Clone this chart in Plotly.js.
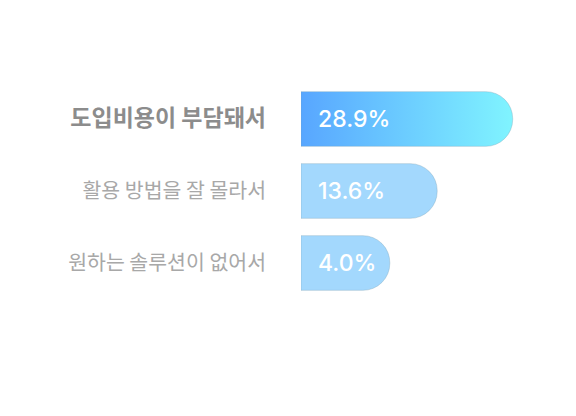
<!DOCTYPE html>
<html>
<head>
<meta charset="utf-8">
<script src="https://cdn.plot.ly/plotly-3.0.1.min.js"></script>
<style>
  html, body { margin: 0; padding: 0; background: #ffffff; }
  #chart { width: 576px; height: 416px; }
</style>
</head>
<body>
<div id="chart"></div>
<script>
// ---- data ----
const categories = ['도입비용이 부담돼서', '활용 방법을 잘 몰라서', '원하는 솔루션이 없어서'];
const values = [28.9, 13.6, 4.0];
const valueLabels = values.map(v => v.toFixed(1) + '%');
const highlightIndex = 0;

// ---- style ----
const barPad = 14;               // every bar gets a fixed lead-in so small bars keep room for their label
const baseColor = '#a3d8fd';
const gradFrom = '#58a6ff';
const gradTo = '#80f4ff';

const tickText = categories.map((c, i) =>
  i === highlightIndex
    ? "<b><span style='color:#8c8c8c;font-size:23px'>" + c + "</span></b>"
    : c);

const trace = {
  type: 'bar',
  orientation: 'h',
  y: categories,
  x: values.map(v => v + barPad),
  marker: {
    color: categories.map((c, i) => i === highlightIndex ? gradFrom : baseColor),
    cornerradius: 27,
    line: { color: 'rgba(120,160,180,0.35)', width: 1 }
  },
  hoverinfo: 'skip'
};

const annotations = categories.map((c, i) => ({
  x: 0, y: c, xref: 'x', yref: 'y',
  xanchor: 'left', yanchor: 'middle', xshift: 15,
  text: valueLabels[i], showarrow: false,
  font: { family: 'Inter, "Noto Sans", sans-serif', size: 23, color: '#ffffff', weight: 500 }
}));

const layout = {
  width: 576, height: 416,
  margin: { l: 301, r: 20, t: 83, b: 117 },
  paper_bgcolor: '#ffffff', plot_bgcolor: '#ffffff',
  showlegend: false,
  bargap: 0.24,
  xaxis: { visible: false, range: [0, 51.67], fixedrange: true },
  yaxis: {
    type: 'category',
    categoryorder: 'array', categoryarray: categories,
    range: [2.5, -0.5],
    tickvals: categories, ticktext: tickText,
    ticks: '', showline: false, showgrid: false, zeroline: false,
    ticklabelstandoff: 34,
    tickfont: { family: '"Noto Sans CJK KR", sans-serif', size: 20.5, color: '#a8a8a8' }
  },
  annotations: annotations
};

const gd = document.getElementById('chart');
Plotly.newPlot(gd, [trace], layout, { staticPlot: true, displayModeBar: false }).then(() => {
  const svg = gd.querySelector('svg.main-svg');
  const ns = 'http://www.w3.org/2000/svg';
  let defs = svg.querySelector('defs');
  if (!defs) { defs = document.createElementNS(ns, 'defs'); svg.insertBefore(defs, svg.firstChild); }
  const lg = document.createElementNS(ns, 'linearGradient');
  lg.setAttribute('id', 'barGrad');
  lg.setAttribute('x1', '0'); lg.setAttribute('y1', '0');
  lg.setAttribute('x2', '1'); lg.setAttribute('y2', '0');
  [[0, gradFrom], [1, gradTo]].forEach(([o, c]) => {
    const s = document.createElementNS(ns, 'stop');
    s.setAttribute('offset', o); s.setAttribute('stop-color', c);
    lg.appendChild(s);
  });
  defs.appendChild(lg);
  const paths = gd.querySelectorAll('.barlayer .trace .point path');
  if (paths[highlightIndex]) paths[highlightIndex].style.fill = 'url(#barGrad)';
});
</script>
</body>
</html>
